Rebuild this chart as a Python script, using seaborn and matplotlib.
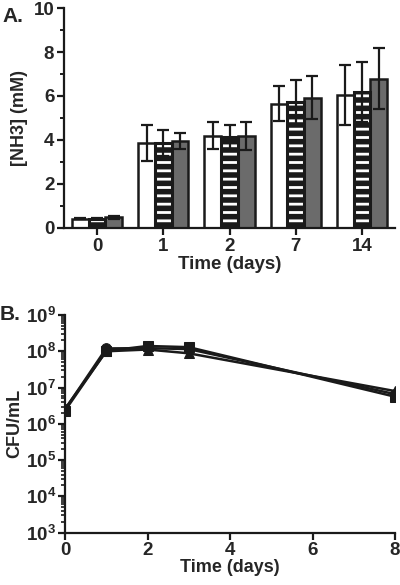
import matplotlib
matplotlib.use('Agg')
import matplotlib.pyplot as plt
import seaborn as sns
import pandas as pd
import numpy as np
from matplotlib.patches import Rectangle
from matplotlib.ticker import AutoMinorLocator, LogLocator, NullFormatter

# Panel A data: NH3 concentration per day for three conditions
days = ['0', '1', '2', '7', '14']
groups = ['white', 'striped', 'grey']
nh3_white = [0.42, 3.86, 4.2, 5.65, 6.04]
nh3_striped = [0.42, 3.86, 4.13, 5.73, 6.18]
nh3_grey = [0.48, 3.96, 4.18, 5.93, 6.78]
err_white = [0.03, 0.83, 0.6, 0.8, 1.38]
err_striped = [0.02, 0.6, 0.53, 1.0, 1.36]
err_grey = [0.05, 0.36, 0.65, 0.99, 1.38]

# Panel B data: CFU/mL over time for three strains
time_b = [0, 1, 2, 3, 8]
cfu_circle = [2.5e6, 1.2e8, 1.22e8, 1.15e8, 6.6e6]
cfu_square = [2.3e6, 1.02e8, 1.4e8, 1.3e8, 5.6e6]
cfu_triangle = [2.6e6, 1.0e8, 1.12e8, 8.8e7, 8.0e6]

sns.set_style('ticks')
plt.rcParams['font.family'] = ['Liberation Sans', 'DejaVu Sans']
plt.rcParams['font.weight'] = 'bold'
plt.rcParams['mathtext.fontset'] = 'custom'
plt.rcParams['mathtext.bf'] = 'Liberation Sans:bold'
plt.rcParams['mathtext.rm'] = 'Liberation Sans:bold'
plt.rcParams['mathtext.default'] = 'bf'
plt.rcParams['hatch.linewidth'] = 2.0
plt.rcParams['axes.linewidth'] = 1.6

DARK = '#1a1a1a'
fig = plt.figure(figsize=(4.0, 5.85), dpi=100)
ax1 = fig.add_axes([0.16, 0.6103, 0.8275, 0.376])
ax2 = fig.add_axes([0.1625, 0.0895, 0.825, 0.372])

# ---- Panel A ----
rows = []
for g, vals in zip(groups, [nh3_white, nh3_striped, nh3_grey]):
    for d, v in zip(days, vals):
        rows.append({'Day': d, 'Group': g, 'NH3': v})
df_a = pd.DataFrame(rows)

palette = {'white': 'white', 'striped': DARK, 'grey': '#6b6b6b'}
sns.barplot(data=df_a, x='Day', y='NH3', hue='Group', order=days, hue_order=groups,
            palette=palette, saturation=1, width=0.76, errorbar=None, edgecolor=DARK,
            linewidth=1.8, legend=False, ax=ax1)

errs = [err_white, err_striped, err_grey]
bar_conts = list(ax1.containers)
for ci, cont in enumerate(bar_conts):
    xs = [p.get_x() + p.get_width() / 2 for p in cont.patches]
    hs = [p.get_height() for p in cont.patches]
    if groups[ci] == 'striped':
        for p in cont.patches:
            p.set_facecolor(DARK)
            p.set_edgecolor('white')
            p.set_hatch('--')
            p.set_linewidth(0)
            ax1.add_patch(Rectangle((p.get_x(), 0), p.get_width(), p.get_height(),
                                    fill=False, edgecolor=DARK, linewidth=2.2,
                                    zorder=p.get_zorder() + 0.1))
    ax1.errorbar(xs, hs, yerr=errs[ci], fmt='none', ecolor=DARK, elinewidth=1.6,
                 capsize=4.5, capthick=1.6, zorder=5)

ax1.set_xlim(-0.5, 4.5)
ax1.set_ylim(0, 10)
ax1.set_yticks([0, 2, 4, 6, 8, 10])
ax1.yaxis.set_minor_locator(AutoMinorLocator(2))
ax1.set_xlabel('Time (days)', fontsize=13.5, fontweight='bold', labelpad=1)
ax1.set_ylabel('[NH3] (mM)', fontsize=13, fontweight='bold', labelpad=4)
ax1.tick_params(axis='both', which='major', labelsize=13.5, width=1.6, length=5, color=DARK, pad=2)
ax1.tick_params(axis='y', which='minor', width=1.4, length=3, color=DARK)
sns.despine(ax=ax1)
for s in ['left', 'bottom']:
    ax1.spines[s].set_color(DARK)

# ---- Panel B ----
for vals, mk in zip([cfu_circle, cfu_square, cfu_triangle], ['o', 's', '^']):
    sns.lineplot(x=time_b, y=vals, marker=mk, color=DARK, linewidth=1.8,
                 markersize=7, markeredgecolor=DARK, ax=ax2)

ax2.set_yscale('log')
ax2.set_ylim(1e3, 1e9)
ax2.set_xlim(0, 8)
ax2.set_xticks([0, 2, 4, 6, 8])
ax2.yaxis.set_major_locator(LogLocator(base=10, numticks=10))
ax2.yaxis.set_minor_locator(LogLocator(base=10, subs=np.arange(2, 10), numticks=10))
ax2.yaxis.set_minor_formatter(NullFormatter())
ax2.set_xlabel('Time (days)', fontsize=13, fontweight='bold', labelpad=0)
ax2.set_ylabel('CFU/mL', fontsize=13, fontweight='bold', labelpad=2)
ax2.tick_params(axis='both', which='major', labelsize=13.5, width=1.6, length=5, color=DARK, pad=1.5)
ax2.tick_params(axis='y', which='minor', width=1.2, length=3, color=DARK)
sns.despine(ax=ax2)
for s in ['left', 'bottom']:
    ax2.spines[s].set_color(DARK)
for ax in (ax1, ax2):
    for lab in ax.get_xticklabels() + ax.get_yticklabels():
        lab.set_fontweight('bold')

fig.text(0.005, 0.988, 'A.', fontsize=15, fontweight='bold', va='top', ha='left')
fig.text(0.0, 0.478, 'B.', fontsize=15, fontweight='bold', va='top', ha='left')

fig.savefig('out.png', dpi=100)
